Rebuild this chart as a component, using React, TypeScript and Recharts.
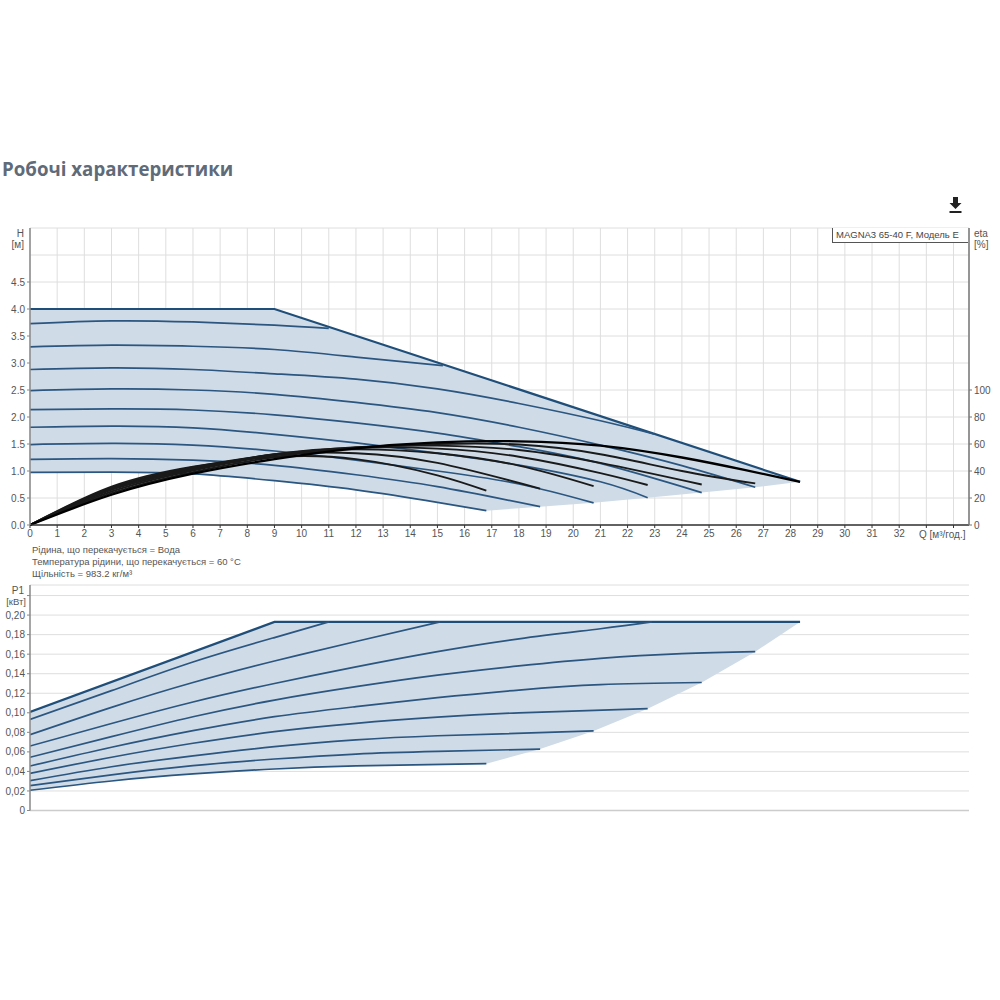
import React from 'react';
import { ComposedChart, Line, Area, XAxis, YAxis, CartesianGrid } from 'recharts';

// flow axis
const qTicks = Array.from({ length: 35 }, (_, i) => i);
const qMax = 34.57;

// head chart axes
const headTicks = [0, 0.5, 1, 1.5, 2, 2.5, 3, 3.5, 4, 4.5];
const headGrid = [0, 0.5, 1, 1.5, 2, 2.5, 3, 3.5, 4, 4.5, 5, 5.5];
const etaTicks = [0, 20, 40, 60, 80, 100];

// head curves, top one first
const envQ = [0, 9, 28.35];
const envH = [4, 4, 0.8];
const h2Q = [0, 3, 6, 9, 11];
const h2 = [3.73, 3.78, 3.76, 3.7, 3.64];
const h3Q = [0, 3, 6, 9, 12, 15.2];
const h3 = [3.3, 3.33, 3.31, 3.25, 3.11, 2.95];
const h4Q = [0, 3, 6, 9, 12, 15, 18, 21, 23];
const h4 = [2.88, 2.91, 2.88, 2.8, 2.7, 2.52, 2.25, 1.93, 1.68];
const h5Q = [0, 3, 6, 9, 12, 15, 18, 21, 24, 26.7];
const h5 = [2.49, 2.52, 2.5, 2.42, 2.27, 2.08, 1.81, 1.48, 1.1, 0.7];
const h6Q = [0, 3, 6, 9, 12, 15, 18, 21, 24.73];
const h6 = [2.135, 2.15, 2.13, 2.04, 1.89, 1.7, 1.45, 1.14, 0.6];
const h7Q = [0, 3, 6, 9, 12, 15, 18, 21, 22.74];
const h7 = [1.81, 1.83, 1.8, 1.68, 1.52, 1.33, 1.11, 0.8, 0.505];
const h8Q = [0, 3, 6, 9, 12, 15, 18, 20.75];
const h8 = [1.49, 1.51, 1.48, 1.37, 1.2, 1.0, 0.76, 0.41];
const h9Q = [0, 3, 6, 9, 12, 15, 18.78];
const h9 = [1.216, 1.23, 1.2, 1.105, 0.93, 0.71, 0.34];
const h10Q = [0, 3, 6, 9, 12, 15, 16.8];
const h10 = [0.976, 0.98, 0.945, 0.82, 0.65, 0.42, 0.265];

// shaded head area
const headAreaQ = [0, 3, 6, 9, 12, 15, 16.8, 18.78, 20.75, 22.74, 24.73, 26.7, 28.35];
const headAreaLow = [0.976, 0.98, 0.945, 0.82, 0.65, 0.42, 0.265, 0.34, 0.41, 0.505, 0.6, 0.7, 0.8];
const headAreaHigh = [4, 4, 4, 4, 3.5, 3, 2.71, 2.38, 2.05, 1.72, 1.39, 1.07, 0.8];

// efficiency curves
const e1Q = [0, 3, 6, 9, 12, 15, 16.8];
const e1 = [0, 28.4, 43.2, 50.4, 48.8, 36.8, 25.4];
const e2Q = [0, 3, 6, 9, 12, 15, 18.78];
const e2 = [0, 27.6, 42.8, 52, 53.2, 46, 27];
const e3Q = [0, 3, 6, 9, 12, 15, 18, 20.75];
const e3 = [0, 26.8, 42, 52.4, 56, 53.2, 44, 28.8];
const e4Q = [0, 3, 6, 9, 12, 15, 18, 21, 22.74];
const e4 = [0, 26, 41.2, 52.4, 57.2, 56.6, 50.6, 38.4, 29.6];
const e5Q = [0, 3, 6, 9, 12, 15, 18, 21, 24.73];
const e5 = [0, 24.8, 40.4, 51.6, 57.6, 58.8, 55.6, 46, 30];
const e6Q = [0, 3, 6, 9, 12, 15, 18, 21, 24, 26.7];
const e6 = [0, 23.6, 39.2, 50.4, 57.2, 60, 59.6, 52.4, 40, 30.8];
const e7Q = [0, 3, 6, 9, 12, 15, 18, 21, 24, 26.3, 28.35];
const e7 = [0, 22.4, 38, 48.8, 56.8, 61.2, 62, 58.8, 50, 40.8, 32];

// power chart axes
const powerTicks = [0, 0.02, 0.04, 0.06, 0.08, 0.1, 0.12, 0.14, 0.16, 0.18, 0.2, 0.22];
const powerMax = 0.2308;

// power curves
const penvQ = [0, 9, 28.35];
const penv = [0.1008, 0.193, 0.193];
const p2Q = [0, 3, 6, 9, 11];
const p2 = [0.0933, 0.1227, 0.152, 0.177, 0.193];
const p3Q = [0, 3, 6, 9, 12, 15.1];
const p3 = [0.0776, 0.1056, 0.131, 0.153, 0.173, 0.193];
const p4Q = [0, 3, 6, 9, 12, 15, 18, 21, 22.9];
const p4 = [0.066, 0.089, 0.111, 0.13, 0.147, 0.1626, 0.1757, 0.186, 0.193];
const p5Q = [0, 3, 6, 9, 12, 15, 18, 21, 24, 26.7];
const p5 = [0.0545, 0.0756, 0.096, 0.113, 0.1267, 0.1385, 0.148, 0.1558, 0.1605, 0.1626];
const p6Q = [0, 3, 6, 9, 12, 15, 18, 21, 24.73];
const p6 = [0.0455, 0.0647, 0.0817, 0.096, 0.1063, 0.1155, 0.1233, 0.1288, 0.131];
const p7Q = [0, 3, 6, 9, 12, 15, 18, 22.74];
const p7 = [0.038, 0.0545, 0.0688, 0.0807, 0.0892, 0.0955, 0.1, 0.1042];
const p8Q = [0, 3, 6, 9, 12, 15, 20.75];
const p8 = [0.0305, 0.0448, 0.056, 0.0653, 0.0722, 0.0765, 0.0814];
const p9Q = [0, 3, 6, 9, 12, 15, 18.78];
const p9 = [0.0254, 0.0365, 0.0459, 0.0527, 0.0578, 0.0605, 0.0629];
const p10Q = [0, 3, 6, 9, 12, 16.8];
const p10 = [0.0207, 0.0302, 0.0374, 0.0425, 0.0456, 0.0479];

// shaded power area
const powerAreaQ = [0, 3, 6, 9, 12, 16.8, 18.78, 20.75, 22.74, 24.73, 26.7, 28.35];
const powerAreaLow = [0.0207, 0.0302, 0.0374, 0.0425, 0.0456, 0.0479, 0.0629, 0.0814, 0.1042, 0.131, 0.1626, 0.193];
const powerAreaHigh = [0.1008, 0.1315, 0.162, 0.193, 0.193, 0.193, 0.193, 0.193, 0.193, 0.193, 0.193, 0.193];

const headCurves = [[h2Q, h2], [h3Q, h3], [h4Q, h4], [h5Q, h5], [h6Q, h6], [h7Q, h7], [h8Q, h8], [h9Q, h9], [h10Q, h10]];
const etaCurves = [[e1Q, e1], [e2Q, e2], [e3Q, e3], [e4Q, e4], [e5Q, e5], [e6Q, e6]];
const powerCurves = [[p2Q, p2], [p3Q, p3], [p4Q, p4], [p5Q, p5], [p6Q, p6], [p7Q, p7], [p8Q, p8], [p9Q, p9], [p10Q, p10]];

const toPoints = (qs: number[], vs: number[]) => qs.map((q, i) => ({ q, v: vs[i] }));
const toRange = (qs: number[], lo: number[], hi: number[]) => qs.map((q, i) => ({ q, r: [lo[i], hi[i]] }));

const font = 'Liberation Sans';
const tickStyle = { fontFamily: font, fontSize: 10, fill: '#555' };
const gridColor = '#dedede';
const fillColor = '#cfdbe7';
const curveColor = '#2a5680';
const envColor = '#1f4e79';

const label = (x: number, y: number, text: string, extra: React.CSSProperties = {}) => (
  <div style={{ position: 'absolute', left: x, top: y, fontFamily: font, fontSize: 10, color: '#555', whiteSpace: 'nowrap', ...extra }}>
    {text}
  </div>
);

export default function App() {
  return (
    <div style={{ position: 'absolute', left: 0, top: 0, width: 1000, height: 1000, background: '#fff', overflow: 'hidden' }}>
      <div style={{ position: 'absolute', left: 2, top: 156, fontFamily: 'Open Sans', fontWeight: 700, fontSize: 18.7, color: '#5f6b78', whiteSpace: 'nowrap' }}>
        Робочі характеристики
      </div>
      <svg style={{ position: 'absolute', left: 949, top: 197 }} width={13} height={17} viewBox="0 0 13 17">
        <path d="M4 0h5v6h3.5L6.5 12 .5 6H4z" fill="#222" />
        <rect x="0.5" y="14" width="12" height="2" fill="#222" />
      </svg>

      <div style={{ position: 'absolute', left: 0, top: 0 }}>
        <ComposedChart width={1000} height={560} margin={{ top: 228, right: 0, bottom: 0, left: 0 }}>
          <CartesianGrid stroke={gridColor} horizontalValues={headGrid} verticalValues={[...qTicks, qMax]} />
          <XAxis
            type="number"
            dataKey="q"
            domain={[0, qMax]}
            ticks={qTicks}
            interval={0}
            height={35}
            allowDataOverflow
            axisLine={{ stroke: '#333', strokeWidth: 1.5 }}
            tickLine={{ stroke: '#333' }}
            tickSize={3}
            tick={tickStyle}
            tickFormatter={(v: number) => (v > 32 ? '' : String(v))}
          />
          <YAxis
            type="number"
            domain={[0, 5.5]}
            ticks={headTicks}
            interval={0}
            width={30}
            axisLine={{ stroke: '#888', strokeWidth: 1.5 }}
            tickLine={{ stroke: '#888' }}
            tickSize={3}
            tick={tickStyle}
            tickFormatter={(v: number) => v.toFixed(1)}
          />
          <YAxis
            yAxisId="eta"
            orientation="right"
            type="number"
            domain={[0, 220]}
            ticks={etaTicks}
            interval={0}
            width={31}
            axisLine={{ stroke: '#777', strokeWidth: 1.5 }}
            tickLine={{ stroke: '#777' }}
            tickSize={3}
            tick={tickStyle}
          />
          <Area
            data={toRange(headAreaQ, headAreaLow, headAreaHigh)}
            dataKey="r"
            type="linear"
            fill={fillColor}
            fillOpacity={1}
            stroke="none"
            isAnimationActive={false}
          />
          <Line data={toPoints(envQ, envH)} dataKey="v" type="linear" stroke={envColor} strokeWidth={2.2} dot={false} isAnimationActive={false} />
          {headCurves.map(([qs, vs], i) => (
            <Line key={i} data={toPoints(qs, vs)} dataKey="v" type="natural" stroke={curveColor} strokeWidth={1.7} dot={false} isAnimationActive={false} />
          ))}
          {etaCurves.map(([qs, vs], i) => (
            <Line key={i} yAxisId="eta" data={toPoints(qs, vs)} dataKey="v" type="natural" stroke="#1a1a1a" strokeWidth={1.9} dot={false} isAnimationActive={false} />
          ))}
          <Line yAxisId="eta" data={toPoints(e7Q, e7)} dataKey="v" type="natural" stroke="#000" strokeWidth={2.3} dot={false} isAnimationActive={false} />
        </ComposedChart>
      </div>

      <div style={{ position: 'absolute', left: 0, top: 0 }}>
        <ComposedChart width={1000} height={815} margin={{ top: 585, right: 31, bottom: 0, left: 0 }}>
          <CartesianGrid stroke={gridColor} horizontalValues={[...powerTicks, powerMax]} verticalValues={[...qTicks, qMax]} />
          <XAxis
            type="number"
            dataKey="q"
            domain={[0, qMax]}
            ticks={qTicks}
            interval={0}
            height={4.5}
            allowDataOverflow
            axisLine={{ stroke: '#ccc', strokeWidth: 1.5 }}
            tick={false}
            tickLine={false}
          />
          <YAxis
            type="number"
            domain={[0, powerMax]}
            ticks={powerTicks}
            interval={0}
            width={30}
            axisLine={{ stroke: '#888', strokeWidth: 1.5 }}
            tickLine={{ stroke: '#888' }}
            tickSize={3}
            tick={tickStyle}
            tickFormatter={(v: number) => (v === 0 ? '0' : v > 0.21 ? '' : v.toFixed(2).replace('.', ','))}
          />
          <Area
            data={toRange(powerAreaQ, powerAreaLow, powerAreaHigh)}
            dataKey="r"
            type="linear"
            fill={fillColor}
            fillOpacity={1}
            stroke="none"
            isAnimationActive={false}
          />
          <Line data={toPoints(penvQ, penv)} dataKey="v" type="linear" stroke={envColor} strokeWidth={2.2} dot={false} isAnimationActive={false} />
          {powerCurves.map(([qs, vs], i) => (
            <Line key={i} data={toPoints(qs, vs)} dataKey="v" type="natural" stroke={curveColor} strokeWidth={1.7} dot={false} isAnimationActive={false} />
          ))}
        </ComposedChart>
      </div>

      <div style={{ position: 'absolute', left: 832, top: 228, width: 136, height: 15, borderLeft: '1px solid #555', borderBottom: '1px solid #555', background: '#fff', fontFamily: font, fontSize: 9.5, color: '#444', lineHeight: '14px', paddingLeft: 3, boxSizing: 'border-box', whiteSpace: 'nowrap' }}>
        MAGNA3 65-40 F, Модель E
      </div>

      {label(0, 228, 'H', { width: 24, textAlign: 'right' })}
      {label(0, 239, '[м]', { width: 24, textAlign: 'right' })}
      {label(974, 228, 'eta')}
      {label(974, 239, '[%]')}
      {label(919, 529, 'Q [м³/год.]')}
      {label(32, 544, 'Рідина, що перекачується = Вода', { fontSize: 9.5 })}
      {label(32, 556, 'Температура рідини, що перекачується = 60 °C', { fontSize: 9.5 })}
      {label(32, 568, 'Щільність = 983.2 кг/м³', { fontSize: 9.5 })}
      {label(0, 585, 'P1', { width: 24, textAlign: 'right' })}
      {label(0, 596, '[кВт]', { width: 26, textAlign: 'right', fontSize: 9.5 })}
    </div>
  );
}
